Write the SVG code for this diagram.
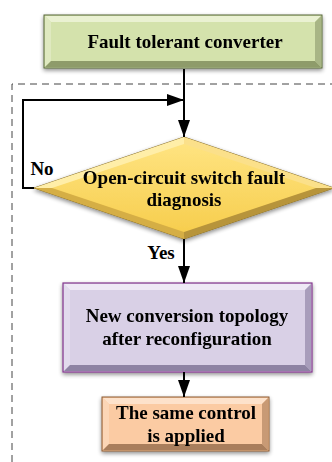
<svg xmlns="http://www.w3.org/2000/svg" width="332" height="462" viewBox="0 0 332 462">
<defs>
<style>
text{font-family:"Liberation Serif","Times New Roman",serif;font-weight:bold;font-size:19px;fill:#000;text-anchor:middle}
.conn{stroke:#000;stroke-width:2;fill:none}
.frame{stroke:#444;stroke-width:1;stroke-dasharray:7,5;fill:none}
</style>
<filter id="sh" x="-10%" y="-10%" width="120%" height="130%">
<feGaussianBlur in="SourceAlpha" stdDeviation="2"/>
<feOffset dx="0" dy="2" result="b"/>
<feComponentTransfer><feFuncA type="linear" slope="0.45"/></feComponentTransfer>
<feMerge><feMergeNode/><feMergeNode in="SourceGraphic"/></feMerge>
</filter>
<linearGradient id="yg" x1="0" y1="0" x2="0" y2="1">
<stop offset="0" stop-color="#ffe584"/>
<stop offset="1" stop-color="#f6cc4a"/>
</linearGradient>
<marker id="ah" markerUnits="userSpaceOnUse" markerWidth="17" markerHeight="12" refX="17" refY="6" orient="auto" viewBox="0 0 17 12">
<path d="M0,0 L17,6 L0,12 Z" fill="#000"/>
</marker>
</defs>

<path class="frame" d="M12,462 V84 H332"/>

<g id="n1" filter="url(#sh)">
<rect x="44" y="15" width="278" height="53" fill="#d4e2ac" stroke="#56663a" stroke-width="1"/>
<polygon points="45,16 321,16 315,22 51,22" fill="#eaf1d2"/>
<polygon points="45,16 51,22 51,61 45,67" fill="#dfe9c0"/>
<polygon points="321,16 321,67 315,61 315,22" fill="#a8b585"/>
<polygon points="45,67 51,61 315,61 321,67" fill="#8e9b6a"/>
<text x="185" y="48">Fault tolerant converter</text>
</g>

<g id="n2" filter="url(#sh)">
<polygon points="184,137 334,188 184,239 34,188" fill="url(#yg)" stroke="#8a7232" stroke-width="1"/>
<polygon points="34,188 184,137 184,144 52,188" fill="#ffeea8"/>
<polygon points="184,137 334,188 316,188 184,144" fill="#fbe08a"/>
<polygon points="334,188 184,239 184,232 316,188" fill="#b7943a"/>
<polygon points="184,239 34,188 52,188 184,232" fill="#d5ae44"/>
<text x="184" y="184">Open-circuit switch fault</text>
<text x="184" y="206">diagnosis</text>
</g>

<g id="n3" filter="url(#sh)">
<rect x="63" y="283" width="249" height="89" fill="#d9d0e6" stroke="#84388e" stroke-width="1.2"/>
<polygon points="64,284 311,284 305,290 70,290" fill="#eee9f5"/>
<polygon points="64,284 70,290 70,365 64,371" fill="#e2dbed"/>
<polygon points="311,284 311,371 305,365 305,290" fill="#a89dbb"/>
<polygon points="64,371 70,365 305,365 311,371" fill="#8e83a3"/>
<text x="187" y="322">New conversion topology</text>
<text x="187" y="345">after reconfiguration</text>
</g>

<g id="n4" filter="url(#sh)">
<rect x="102" y="397" width="167" height="54" fill="#fbcba3" stroke="#8b5a33" stroke-width="1"/>
<polygon points="103,398 268,398 262,404 109,404" fill="#fde2cb"/>
<polygon points="103,398 109,404 109,444 103,450" fill="#fcd6b6"/>
<polygon points="268,398 268,450 262,444 262,404" fill="#c89a74"/>
<polygon points="103,450 109,444 262,444 268,450" fill="#a97e5c"/>
<text x="186" y="419">The same control</text>
<text x="186" y="442">is applied</text>
</g>

<g id="connectors">
<line class="conn" x1="184" y1="69" x2="184" y2="137" marker-end="url(#ah)"/>
<path class="conn" d="M34,188 H23 V100 H184" marker-end="url(#ah)"/>
<line class="conn" x1="184" y1="239" x2="184" y2="283" marker-end="url(#ah)"/>
<line class="conn" x1="184" y1="372" x2="184" y2="397" marker-end="url(#ah)"/>
<text x="42" y="175">No</text>
<text x="161" y="259">Yes</text>
</g>
</svg>
